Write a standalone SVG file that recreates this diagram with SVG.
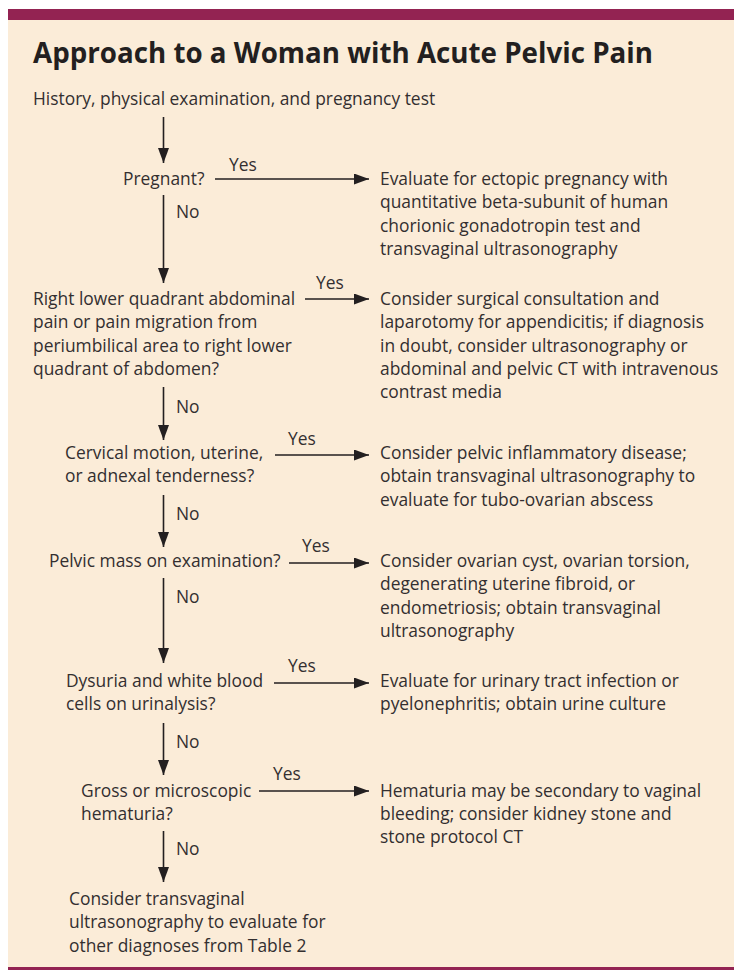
<svg xmlns="http://www.w3.org/2000/svg" width="734" height="970" viewBox="0 0 734 970">
<defs>
<style>
.t{font-family:"Open Sans","Liberation Sans",sans-serif;font-size:17.4px;fill:#332f30}
.title{font-family:"Open Sans","Liberation Sans",sans-serif;font-size:29px;font-weight:bold;fill:#231f20}
.c{stroke:#231f20;stroke-width:1.6;fill:none}
</style>
<marker id="ah" markerUnits="userSpaceOnUse" markerWidth="16" markerHeight="12" refX="15" refY="5.5" orient="auto">
<path d="M0,0 L15,5.5 L0,11 z" fill="#231f20"/>
</marker>
</defs>
<rect x="0" y="0" width="734" height="970" fill="#ffffff"/>
<rect x="8" y="20" width="726" height="948" fill="#fbecd8"/>
<rect x="8" y="9" width="726" height="11" fill="#932352"/>
<rect x="8" y="967" width="726" height="3" fill="#932352"/>
<text class="title" x="33" y="63" textLength="620" lengthAdjust="spacingAndGlyphs">Approach to a Woman with Acute Pelvic Pain</text>

<g id="connectors">
<line class="c" x1="163.5" y1="117" x2="163.5" y2="163" marker-end="url(#ah)"/>
<line class="c" x1="163.5" y1="195" x2="163.5" y2="283" marker-end="url(#ah)"/>
<line class="c" x1="163.5" y1="387" x2="163.5" y2="440" marker-end="url(#ah)"/>
<line class="c" x1="163.5" y1="495" x2="163.5" y2="547" marker-end="url(#ah)"/>
<line class="c" x1="163.5" y1="578" x2="163.5" y2="663" marker-end="url(#ah)"/>
<line class="c" x1="163.5" y1="723" x2="163.5" y2="775" marker-end="url(#ah)"/>
<line class="c" x1="163.5" y1="831" x2="163.5" y2="882" marker-end="url(#ah)"/>
<line class="c" x1="215" y1="179" x2="369" y2="179" marker-end="url(#ah)"/>
<line class="c" x1="305" y1="299" x2="369" y2="299" marker-end="url(#ah)"/>
<line class="c" x1="275" y1="455" x2="369" y2="455" marker-end="url(#ah)"/>
<line class="c" x1="289" y1="563" x2="369" y2="563" marker-end="url(#ah)"/>
<line class="c" x1="274" y1="683" x2="369" y2="683" marker-end="url(#ah)"/>
<line class="c" x1="259" y1="791" x2="369" y2="791" marker-end="url(#ah)"/>
<text class="t" x="229" y="171">Yes</text>
<text class="t" x="316" y="289">Yes</text>
<text class="t" x="288" y="445">Yes</text>
<text class="t" x="302" y="552">Yes</text>
<text class="t" x="288" y="672">Yes</text>
<text class="t" x="273" y="780">Yes</text>
<text class="t" x="176" y="218">No</text>
<text class="t" x="176" y="413">No</text>
<text class="t" x="176" y="520">No</text>
<text class="t" x="176" y="603">No</text>
<text class="t" x="176" y="748">No</text>
<text class="t" x="176" y="855">No</text>
</g>

<g id="start"><text class="t" x="33" y="105">History, physical examination, and pregnancy test</text></g>
<g id="q-pregnant"><text class="t" x="123" y="185">Pregnant?</text></g>
<g id="r-ectopic"><text class="t" x="380" y="185">Evaluate for ectopic pregnancy with</text><text class="t" x="380" y="208">quantitative beta-subunit of human</text><text class="t" x="380" y="232">chorionic gonadotropin test and</text><text class="t" x="380" y="255">transvaginal ultrasonography</text></g>
<g id="q-rlq"><text class="t" x="33" y="305">Right lower quadrant abdominal</text><text class="t" x="33" y="328">pain or pain migration from</text><text class="t" x="33" y="352">periumbilical area to right lower</text><text class="t" x="33" y="375">quadrant of abdomen?</text></g>
<g id="r-appendicitis"><text class="t" x="380" y="305">Consider surgical consultation and</text><text class="t" x="380" y="328">laparotomy for appendicitis; if diagnosis</text><text class="t" x="380" y="352">in doubt, consider ultrasonography or</text><text class="t" x="380" y="375">abdominal and pelvic CT with intravenous</text><text class="t" x="380" y="398">contrast media</text></g>
<g id="q-cervical"><text class="t" x="65" y="459">Cervical motion, uterine,</text><text class="t" x="65" y="482">or adnexal tenderness?</text></g>
<g id="r-pid"><text class="t" x="380" y="459">Consider pelvic inflammatory disease;</text><text class="t" x="380" y="482">obtain transvaginal ultrasonography to</text><text class="t" x="380" y="506">evaluate for tubo-ovarian abscess</text></g>
<g id="q-mass"><text class="t" x="49" y="567">Pelvic mass on examination?</text></g>
<g id="r-mass"><text class="t" x="380" y="567">Consider ovarian cyst, ovarian torsion,</text><text class="t" x="380" y="590">degenerating uterine fibroid, or</text><text class="t" x="380" y="614">endometriosis; obtain transvaginal</text><text class="t" x="380" y="637">ultrasonography</text></g>
<g id="q-dysuria"><text class="t" x="66" y="687">Dysuria and white blood</text><text class="t" x="66" y="710">cells on urinalysis?</text></g>
<g id="r-uti"><text class="t" x="380" y="687">Evaluate for urinary tract infection or</text><text class="t" x="380" y="710">pyelonephritis; obtain urine culture</text></g>
<g id="q-hematuria"><text class="t" x="81" y="797">Gross or microscopic</text><text class="t" x="81" y="820">hematuria?</text></g>
<g id="r-hematuria"><text class="t" x="380" y="797">Hematuria may be secondary to vaginal</text><text class="t" x="380" y="820">bleeding; consider kidney stone and</text><text class="t" x="380" y="843">stone protocol CT</text></g>
<g id="end"><text class="t" x="69" y="905">Consider transvaginal</text><text class="t" x="69" y="928">ultrasonography to evaluate for</text><text class="t" x="69" y="952">other diagnoses from Table 2</text></g>
</svg>
